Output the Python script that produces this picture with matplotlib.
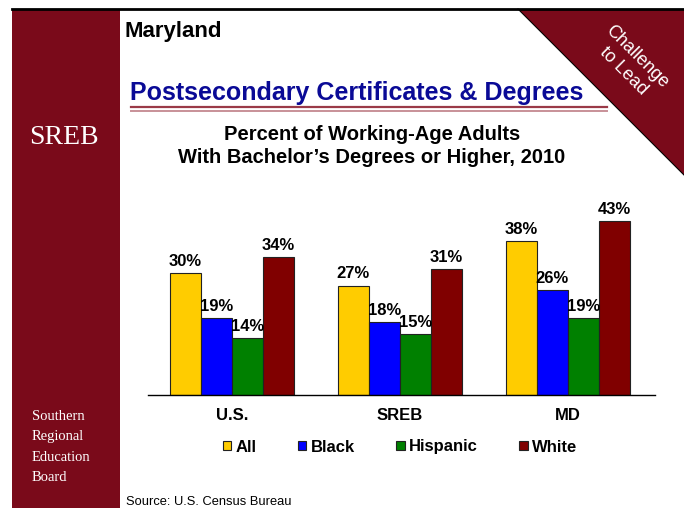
import matplotlib.pyplot as plt
from matplotlib.patches import Rectangle, Polygon, Patch
from matplotlib.lines import Line2D
import numpy as np

# Data
regioes = ["U.S.", "SREB", "MD"]
grupos = ["All", "Black", "Hispanic", "White"]
all_vals = [30, 27, 38]
black_vals = [19, 18, 26]
hispanic_vals = [14, 15, 19]
white_vals = [34, 31, 43]
cores = ["#FFCC00", "#0000FF", "#008000", "#800000"]

W, H = 684, 508
fig = plt.figure(figsize=(W / 100, H / 100), dpi=100)
plt.rcParams['font.family'] = ['Liberation Sans', 'DejaVu Sans']

maroon = "#7A0A1A"

def fx(x):
    return x / W

def fy(y):
    return 1 - y / H

# Fundo do slide
fig.patches.append(Rectangle((fx(12), 0), fx(120) - fx(12), fy(9), transform=fig.transFigure,
                             facecolor=maroon, edgecolor="none"))
fig.patches.append(Polygon([(fx(518), fy(9)), (1, fy(9)), (1, fy(175))], closed=True,
                           transform=fig.transFigure, facecolor=maroon, edgecolor="none"))
fig.lines.append(Line2D([fx(518), 1], [fy(9), fy(175)], transform=fig.transFigure,
                        color="black", lw=0.8))
fig.lines.append(Line2D([fx(12), 1], [fy(9), fy(9)], transform=fig.transFigure,
                        color="black", lw=2))
fig.lines.append(Line2D([fx(131), fx(607)], [fy(107), fy(107)], transform=fig.transFigure,
                        color="#9A3A48", lw=1.6))
fig.lines.append(Line2D([fx(131), fx(607)], [fy(111), fy(111)], transform=fig.transFigure,
                        color="#C89098", lw=1.4))

# Textos
fig.text(fx(124), fy(31), "Maryland", fontsize=16, fontweight="bold", va="center", ha="left")
fig.text(fx(130), fy(93), "Postsecondary Certificates & Degrees", fontsize=18,
         fontweight="bold", color="#0A0A96", va="center", ha="left")
fig.text(fx(630), fy(64), "Challenge\nto Lead", fontsize=13, color="white", rotation=-45,
         ha="center", va="center", linespacing=1.2, rotation_mode="anchor")
fig.text(fx(64), fy(138), "SREB", fontsize=20, color="white", family="Liberation Serif",
         ha="center", va="center")
fig.text(fx(32), fy(447), "Southern\nRegional\nEducation\nBoard", fontsize=10.5, color="white",
         family="Liberation Serif", ha="left", va="center", linespacing=1.75)
fig.text(fx(372), fy(146), "Percent of Working-Age Adults\nWith Bachelor\u2019s Degrees or Higher, 2010",
         fontsize=14.5, fontweight="bold", ha="center", va="center", linespacing=1.25)
fig.text(fx(126), fy(502), "Source: U.S. Census Bureau", fontsize=9.3, ha="left", va="center")

# Gráfico
ax = fig.add_axes([fx(148), fy(395), fx(655) - fx(148), fy(200) - fy(395)])
ax.patch.set_alpha(0)
x = np.arange(len(regioes))
largura = 0.185
series = [all_vals, black_vals, hispanic_vals, white_vals]
for i, (vals, cor) in enumerate(zip(series, cores)):
    barras = ax.bar(x + (i - 1.5) * largura, vals, largura, color=cor, edgecolor="#222222", linewidth=0.8)
    for b, v in zip(barras, vals):
        ax.text(b.get_x() + b.get_width() / 2, v + 1.0, f"{v}%", ha="center", va="bottom",
                fontsize=12, fontweight="bold")

ax.set_xlim(-0.5, 2.52)
ax.set_ylim(0, 48.1)
ax.set_xticks(x)
ax.set_xticklabels(regioes, fontsize=12, fontweight="bold")
ax.tick_params(axis="x", length=0, pad=9)
ax.set_yticks([])
for s in ["top", "right", "left"]:
    ax.spines[s].set_visible(False)
ax.spines["bottom"].set_linewidth(1)

handles = [Patch(facecolor=c, edgecolor="#222222", linewidth=0.8) for c in cores]
fig.legend(handles, grupos, loc="center", bbox_to_anchor=(fx(400), fy(447)), ncol=4,
           frameon=False, prop={"size": 12, "weight": "bold"}, handlelength=0.5,
           handleheight=0.5, handletextpad=0.25, columnspacing=2.5)

plt.savefig("out.png", dpi=100)
plt.close()
